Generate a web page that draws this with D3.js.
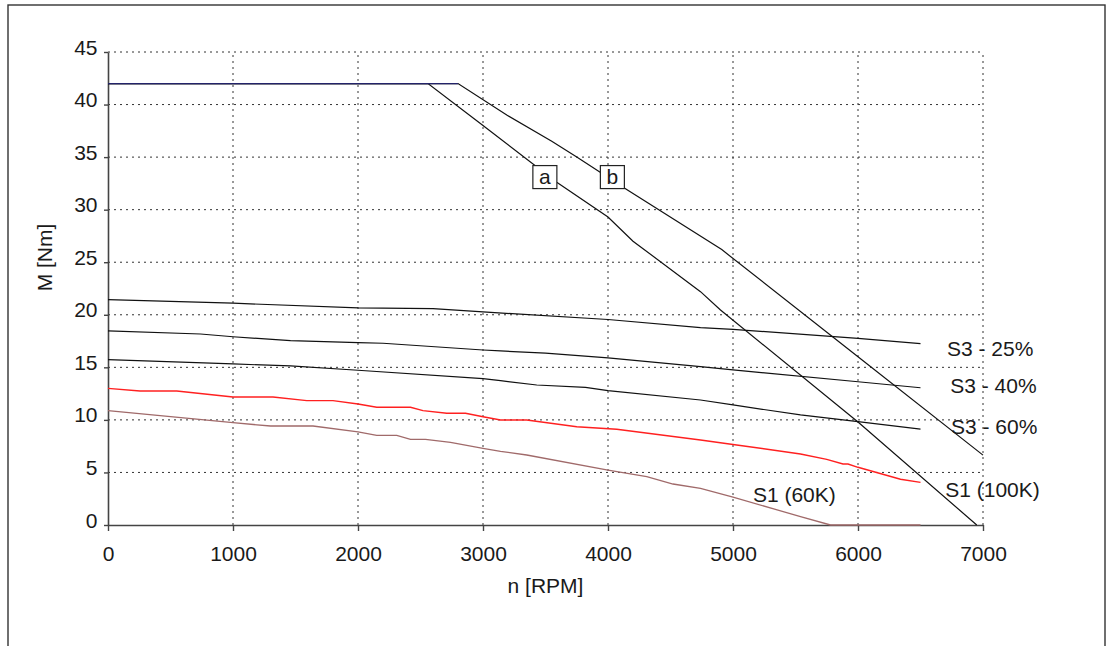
<!DOCTYPE html>
<html>
<head>
<meta charset="utf-8">
<script src="https://cdn.jsdelivr.net/npm/d3@7"></script>
<style>
  html, body { margin: 0; padding: 0; background: #fff; }
  svg { display: block; font-family: "Liberation Sans", Arial, sans-serif; }
</style>
</head>
<body>
<svg id="chart" width="1111" height="646"></svg>
<script>
// ---------- data ----------
const xTicks = [0, 1000, 2000, 3000, 4000, 5000, 6000, 7000];
const yTicks = [0, 5, 10, 15, 20, 25, 30, 35, 40, 45];

// [rpm, Nm]
const curveA = [[0,42],[2560,42],[3000,38.0],[3590,32.6],[4000,29.3],[4200,27.0],[4740,22.2],[4900,20.45],[6000,9.8],[6950,0]];
const curveB = [[0,42],[2800,42],[3190,39.0],[3550,36.5],[3750,35.0],[4140,32.0],[4910,26.2],[6000,16.0],[7000,6.65]];
const s3_25 = [[0,21.45],[1000,21.1],[2000,20.65],[2600,20.58],[3000,20.27],[4000,19.55],[4740,18.77],[5000,18.62],[6000,17.76],[6500,17.25]];
const s3_40 = [[0,18.46],[740,18.17],[1000,17.91],[1460,17.54],[2000,17.35],[2200,17.29],[3000,16.65],[3140,16.56],[3500,16.35],[4000,15.9],[4740,15.06],[5000,14.75],[6000,13.63],[6500,13.06]];
const s3_60 = [[0,15.73],[1000,15.32],[1460,15.13],[2000,14.72],[3000,13.92],[3140,13.73],[3430,13.32],[3820,13.1],[4000,12.78],[4740,11.89],[5000,11.42],[5540,10.47],[6000,9.83],[6500,9.13]];
const s1_100K = [[0,13.0],[256,12.75],[550,12.75],[1000,12.18],[1320,12.18],[1590,11.83],[1800,11.83],[2000,11.51],[2150,11.2],[2420,11.2],[2520,10.88],[2710,10.63],[2860,10.63],[3000,10.3],[3140,9.99],[3350,9.99],[3750,9.35],[4070,9.11],[4740,8.09],[5000,7.66],[5540,6.76],[5750,6.25],[5880,5.8],[5920,5.8],[6000,5.49],[6340,4.35],[6500,4.06]];
const s1_60K = [[0,10.88],[1000,9.73],[1300,9.42],[1640,9.42],[2000,8.85],[2150,8.53],[2310,8.53],[2420,8.15],[2540,8.15],[2740,7.87],[3000,7.3],[3140,7.01],[3350,6.66],[4000,5.23],[4310,4.6],[4520,3.9],[4740,3.49],[5000,2.66],[5540,0.79],[5780,0],[6500,0]];

const curveLabels = [
  {text: "S3 - 25%", x: 6712, y: 16.08},
  {text: "S3 - 40%", x: 6738, y: 12.59},
  {text: "S3 - 60%", x: 6744, y: 8.66},
  {text: "S1 (60K)", x: 5159, y: 2.22},
  {text: "S1 (100K)", x: 6698, y: 2.69}
];
const boxLabels = [
  {text: "a", x: 3495, y: 33.1},
  {text: "b", x: 4035, y: 33.1}
];
const xTitle = "n [RPM]";
const yTitle = "M [Nm]";

// ---------- chart ----------
const FS = 21;
const svg = d3.select("#chart");
const x = d3.scaleLinear().domain([0, 7000]).range([108, 983]);
const y = d3.scaleLinear().domain([0, 45]).range([525, 52]);

// outer frame
svg.append("rect").attr("x", 8).attr("y", 5).attr("width", 1097).attr("height", 700)
  .attr("fill", "none").attr("stroke", "#333").attr("stroke-width", 1.4);

// grid
const grid = svg.append("g").attr("stroke", "#333").attr("stroke-width", 1).attr("stroke-dasharray", "2,4");
grid.selectAll("line.h").data(yTicks.filter(d => d > 0)).join("line")
  .attr("x1", x(0)).attr("x2", x(7000)).attr("y1", d => y(d)).attr("y2", d => y(d));
grid.selectAll("line.v").data(xTicks.filter(d => d > 0)).join("line")
  .attr("x1", d => x(d)).attr("x2", d => x(d)).attr("y1", y(0)).attr("y2", y(45));

// axes
const fmt = d3.format("d");
const yAxis = svg.append("g").attr("transform", `translate(${x(0)},0)`)
  .call(d3.axisLeft(y).tickValues(yTicks).tickFormat(fmt).tickSize(4).tickSizeOuter(0).tickPadding(6.5));
const xAxis = svg.append("g").attr("transform", `translate(0,${y(0)})`)
  .call(d3.axisBottom(x).tickValues(xTicks).tickFormat(fmt).tickSize(6).tickSizeOuter(0).tickPadding(16));
[yAxis, xAxis].forEach(g => {
  g.select(".domain").attr("stroke", "#444").attr("stroke-width", 1.6);
  g.selectAll(".tick line").attr("stroke", "#444").attr("stroke-width", 1.4);
  g.selectAll(".tick text").attr("font-size", FS).attr("fill", "#1a1a1a")
    .attr("font-family", "'Liberation Sans', Arial, sans-serif");
});
yAxis.selectAll(".tick text").attr("dy", "0.1em");
xAxis.selectAll(".tick text").attr("dy", "0.68em");

// curves
const line = d3.line().x(d => x(d[0])).y(d => y(d[1]));
const curves = [
  {data: s1_60K, color: "#a06a6a", w: 1.3},
  {data: s1_100K, color: "#ff2020", w: 1.4},
  {data: s3_60, color: "#111", w: 1.2},
  {data: s3_40, color: "#111", w: 1.2},
  {data: s3_25, color: "#111", w: 1.2},
  {data: curveA, color: "#111", w: 1.2},
  {data: curveB, color: "#111", w: 1.2}
];
svg.append("g").attr("fill", "none").selectAll("path").data(curves).join("path")
  .attr("d", d => line(d.data)).attr("stroke", d => d.color).attr("stroke-width", d => d.w);

// flat peak-torque segment (navy)
const peak = d3.max(curveB, d => d[1]);
svg.append("path").attr("fill", "none").attr("stroke", "#23236a").attr("stroke-width", 1.3)
  .attr("d", line(curveB.filter(d => d[1] === peak)));

// box labels
const bl = svg.append("g").selectAll("g").data(boxLabels).join("g")
  .attr("transform", d => `translate(${x(d.x)},${y(d.y)})`);
bl.append("rect").attr("x", -12).attr("y", -11.5).attr("width", 24).attr("height", 23)
  .attr("fill", "#fff").attr("stroke", "#222").attr("stroke-width", 1.2);
bl.append("text").attr("text-anchor", "middle").attr("y", 7).attr("font-size", FS)
  .attr("fill", "#1a1a1a").text(d => d.text);

// curve labels
svg.append("g").selectAll("text").data(curveLabels).join("text")
  .attr("x", d => x(d.x)).attr("y", d => y(d.y)).attr("font-size", FS)
  .attr("fill", "#1a1a1a").text(d => d.text);

// axis titles
svg.append("text").attr("x", (x(0) + x(7000)) / 2).attr("y", 593).attr("text-anchor", "middle")
  .attr("font-size", FS).attr("fill", "#1a1a1a").text(xTitle);
svg.append("text").attr("transform", `translate(51.5,${(y(0) + y(45)) / 2 - 31}) rotate(-90)`)
  .attr("text-anchor", "middle").attr("font-size", FS).attr("fill", "#1a1a1a").text(yTitle);
</script>
</body>
</html>
